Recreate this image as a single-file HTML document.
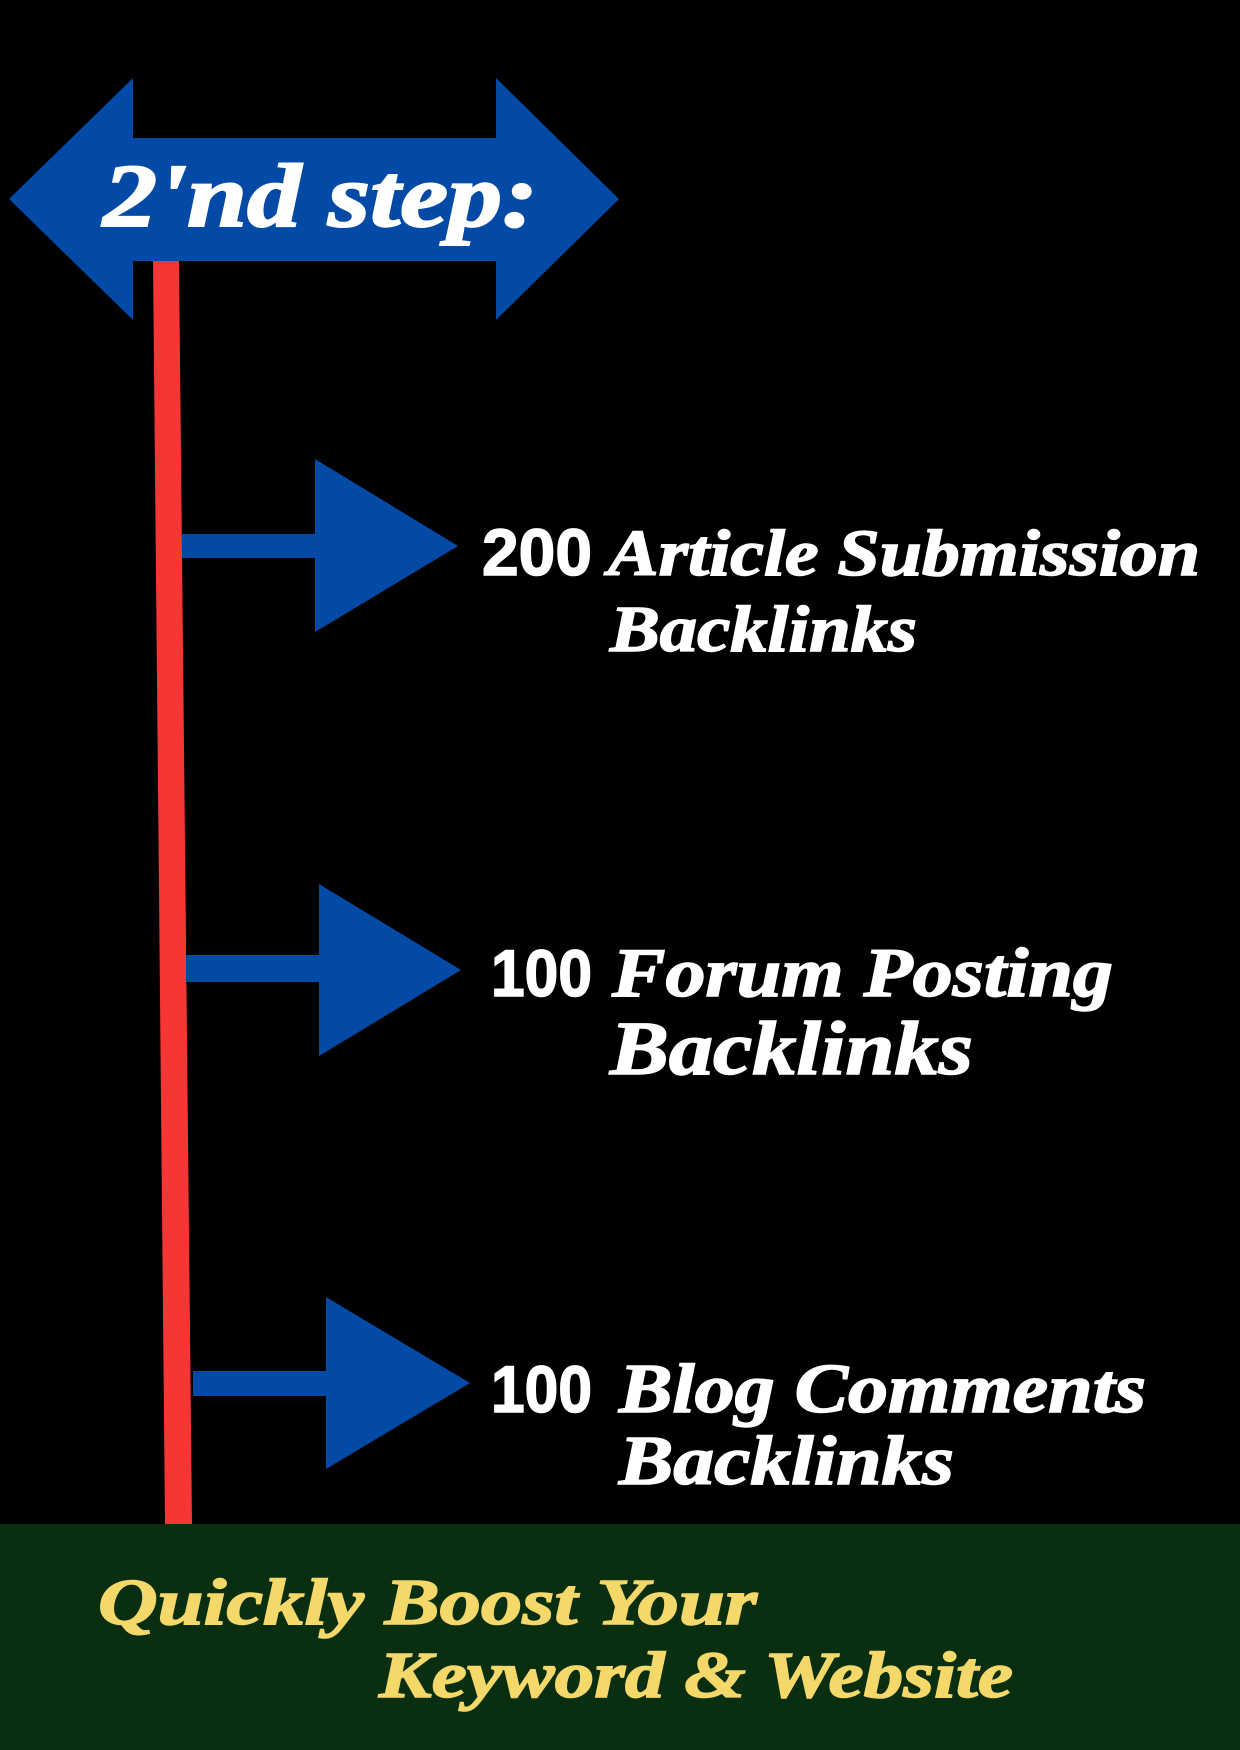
<!DOCTYPE html>
<html><head><meta charset="utf-8"><style>
html,body{margin:0;padding:0;background:#000;}
svg{display:block}
.s{font-family:"Liberation Serif",serif;font-weight:bold;font-style:italic;}
.n{font-family:"Liberation Sans",sans-serif;font-weight:bold;}
</style></head><body>
<svg width="1240" height="1750" viewBox="0 0 1240 1750" xmlns="http://www.w3.org/2000/svg">
<rect width="1240" height="1750" fill="#000"/>
<polygon points="9,199 133,78 133,138 496,138 496,78 619,199 496,320 496,261 133,261 133,320" fill="#034aa6"/>
<text x="103" y="226" class="s" font-size="90" fill="#fff" stroke="#fff" stroke-width="2" textLength="435" lengthAdjust="spacingAndGlyphs">2'nd step:</text>
<polygon points="153,261 179,261 192,1524 165,1524" fill="#f63535"/>
<g fill="#034aa6">
<rect x="182" y="534" width="140" height="24"/><polygon points="315,459 458,546 315,632"/>
<rect x="186" y="955" width="140" height="27"/><polygon points="319,884 461,970 319,1056"/>
<rect x="193" y="1371" width="140" height="25"/><polygon points="326,1297 470,1383 326,1469"/>
</g>
<g fill="#fff" stroke="#fff" stroke-width="1.5">
<text x="482" y="575" class="n" font-size="66" textLength="110" lengthAdjust="spacingAndGlyphs">200</text>
<text x="608" y="575" class="s" font-size="66" textLength="592" lengthAdjust="spacingAndGlyphs">Article Submission</text>
<text x="610" y="651" class="s" font-size="66" textLength="307" lengthAdjust="spacingAndGlyphs">Backlinks</text>
<text x="491" y="996" class="n" font-size="66" textLength="101" lengthAdjust="spacingAndGlyphs">100</text>
<text x="612" y="996" class="s" font-size="70" textLength="501" lengthAdjust="spacingAndGlyphs">Forum Posting</text>
<text x="610" y="1074" class="s" font-size="76" textLength="363" lengthAdjust="spacingAndGlyphs">Backlinks</text>
<text x="491" y="1412" class="n" font-size="66" textLength="101" lengthAdjust="spacingAndGlyphs">100</text>
<text x="619" y="1412" class="s" font-size="70" textLength="527" lengthAdjust="spacingAndGlyphs">Blog Comments</text>
<text x="619" y="1484" class="s" font-size="70" textLength="335" lengthAdjust="spacingAndGlyphs">Backlinks</text>
</g>
<rect x="0" y="1524" width="1240" height="226" fill="#0a2e10"/>
<g fill="#f5d86a" stroke="#f5d86a" stroke-width="1.5">
<text x="98" y="1624" class="s" font-size="66" textLength="659" lengthAdjust="spacingAndGlyphs">Quickly Boost Your</text>
<text x="379" y="1697" class="s" font-size="66" textLength="634" lengthAdjust="spacingAndGlyphs">Keyword &amp; Website</text>
</g>
</svg>
</body></html>
